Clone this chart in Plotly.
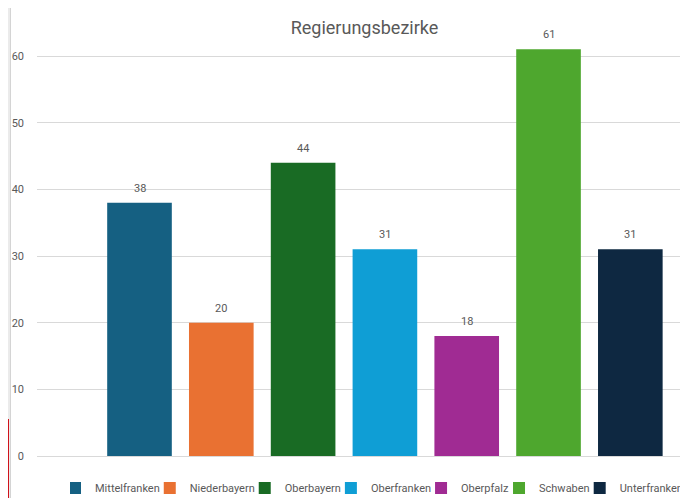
import plotly.graph_objects as go

categories = ["Mittelfranken", "Niederbayern", "Oberbayern", "Oberfranken",
              "Oberpfalz", "Schwaben", "Unterfranken"]
values = [38, 20, 44, 31, 18, 61, 31]
colors = ["#156082", "#E97132", "#196B24", "#0F9ED5", "#A02B93", "#4EA72E", "#0E2841"]
y_ticks = [0, 10, 20, 30, 40, 50, 60]
title_text = "Regierungsbezirke"

# The page body has an 8px default margin, so the figure fills the rest of the window.
W_FIG, H_FIG = 680, 490
M_T, M_B = 8, 42
AX_LEFT = 29  # pixel where the plotting area (gridlines) starts
PH = H_FIG - M_T - M_B

def px_x(p):
    return p / W_FIG

def px_y(p):
    return (H_FIG - M_B - p) / PH

FONT = "Roboto, Arial, sans-serif"
GRAY = "#595959"

fig = go.Figure()
for cat, val, col in zip(categories, values, colors):
    fig.add_trace(go.Bar(
        x=[cat], y=[val], name=cat,
        marker=dict(color=col, line=dict(width=0)),
        width=0.79,
        hoverinfo="x+y",
    ))
    fig.add_annotation(
        x=cat, y=val, text=str(val), showarrow=False,
        yanchor="bottom", yshift=6,
        font=dict(family=FONT, size=11, color=GRAY),
    )

shapes = [
    dict(type="rect", xref="paper", yref="paper", x0=px_x(0), x1=px_x(2),
         y0=px_y(H_FIG), y1=px_y(0), fillcolor="#ebebeb", line=dict(width=0), layer="below"),
    dict(type="line", xref="paper", yref="paper", x0=px_x(2.5), x1=px_x(2.5),
         y0=px_y(H_FIG), y1=px_y(0), line=dict(color="#d4d4d4", width=1), layer="below"),
    dict(type="rect", xref="paper", yref="paper", x0=px_x(0), x1=px_x(1),
         y0=px_y(H_FIG), y1=px_y(411), fillcolor="#d0121b", line=dict(width=0), layer="above"),
]

fig.update_layout(
    width=W_FIG, height=H_FIG,
    margin=dict(l=0, r=0, t=M_T, b=M_B, pad=0, autoexpand=False),
    paper_bgcolor="white", plot_bgcolor="white",
    barmode="overlay",
    showlegend=True,
    title=dict(text=title_text, x=356.5 / W_FIG, xref="container", xanchor="center",
               y=1 - 20 / H_FIG, yref="container", yanchor="middle",
               font=dict(family=FONT, size=18, color=GRAY)),
    font=dict(family=FONT, size=11, color=GRAY),
    xaxis=dict(type="category", categoryorder="array", categoryarray=categories,
               domain=[AX_LEFT / W_FIG, 1],
               range=[-1.253, 6.705], showticklabels=False, showgrid=False,
               zeroline=False, showline=False, ticks=""),
    yaxis=dict(range=[0, 66], tickvals=y_ticks, showgrid=True, gridcolor="#d9d9d9",
               gridwidth=1, zeroline=True, zerolinecolor="#d9d9d9", zerolinewidth=1,
               showline=False, ticks="", ticklabelstandoff=12,
               tickfont=dict(family=FONT, size=11, color=GRAY)),
    legend=dict(orientation="h", x=px_x(62), xanchor="left", y=px_y(480), yanchor="middle",
                font=dict(family=FONT, size=11, color=GRAY), indentation=-15,
                itemwidth=30, tracegroupgap=0, bgcolor="rgba(0,0,0,0)"),
    shapes=shapes,
)

fig.write_html("out.html")
